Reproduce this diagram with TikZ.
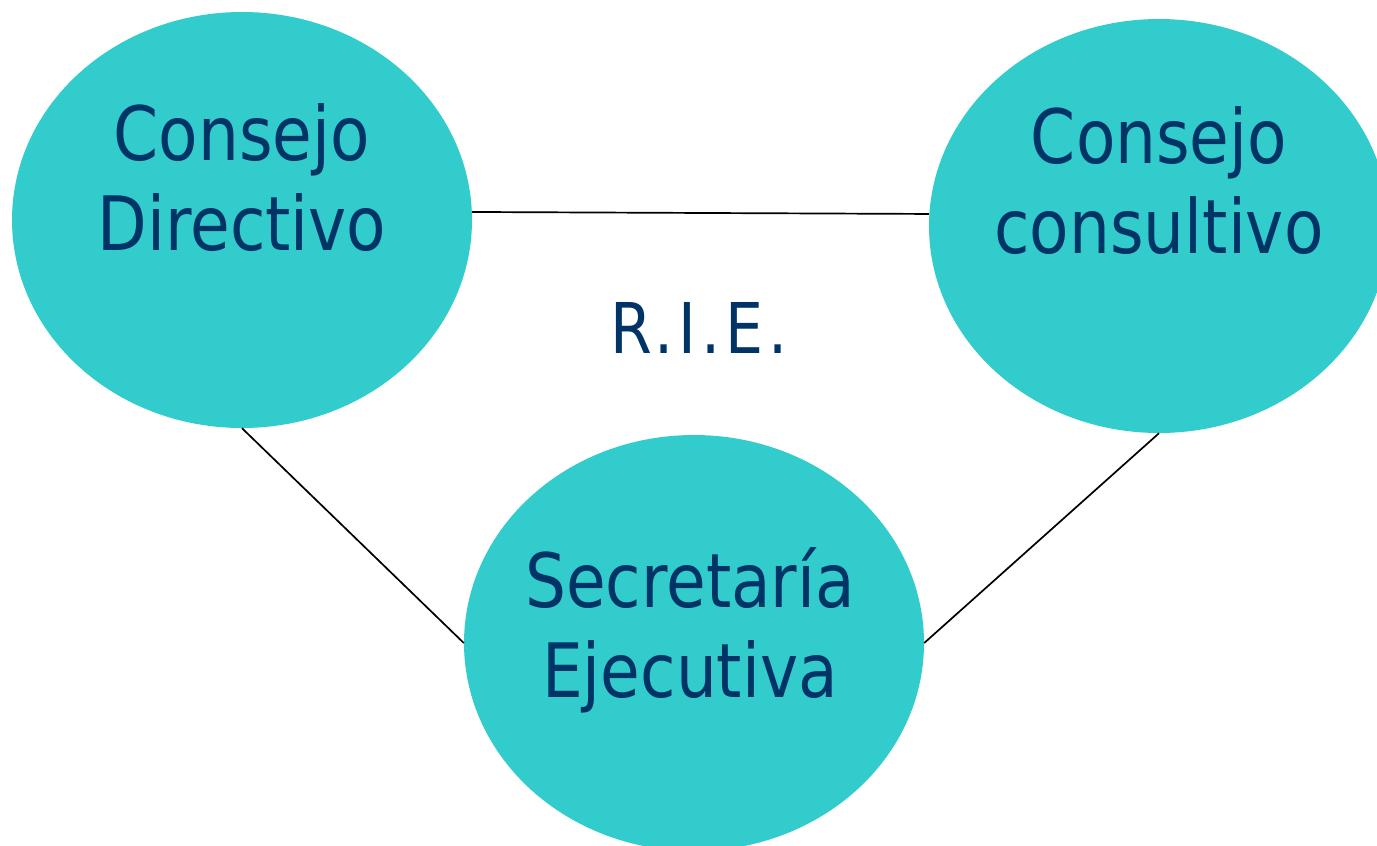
\documentclass[tikz,border=0pt]{standalone}
\usepackage{fontspec}
\setmainfont[FakeStretch=0.86]{DejaVu Sans}
\newfontfamily\riefont[FakeStretch=0.86,LetterSpace=7]{DejaVu Sans}
\usetikzlibrary{shapes.geometric}
\definecolor{teal1}{HTML}{33CCCC}
\definecolor{navy1}{HTML}{003366}
\tikzset{
  blob/.style={ellipse, fill=teal1, draw=none, minimum width=460pt, minimum height=416pt, inner sep=0pt},
  lbl/.style={text=navy1, align=center, font=\fontsize{75}{90}\selectfont, inner sep=0pt},
  link/.style={draw=black, line width=1.7pt}
}
\begin{document}
\begin{tikzpicture}[x=1pt, y=-1pt]
\useasboundingbox (0,0) rectangle (1377,846);
\node[blob] (cd) at (242,220) {};
\node[blob, minimum height=414pt] (cc) at (1159,226) {};
\node[blob] (se) at (694,643) {};
\draw[link] (cd.2) -- (cc.177);
\draw[link] (cd.south) -- (se.west);
\draw[link] (cc.south) -- (se.east);
\node[lbl] (t1) at (242,178) {Consejo\\Directivo};
\node[lbl] (t2) at (1159,181) {Consejo\\consultivo};
\node[lbl] (t3) at (690,630) {Secretaría\\Ejecutiva};
\node[lbl, font=\riefont\fontsize{70}{84}\selectfont] (t4) at (699,328) {R.I.E.};
\end{tikzpicture}
\end{document}
